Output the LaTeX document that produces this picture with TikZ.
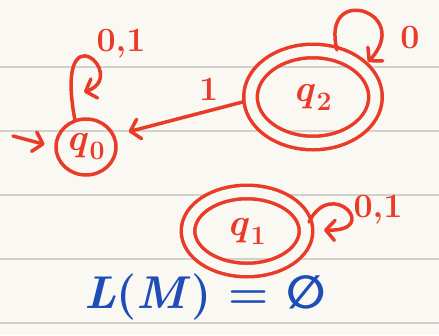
\documentclass[tikz,border=0pt]{standalone}
\usepackage{fontspec}
\newfontfamily\dejavu{DejaVu Sans}
\usetikzlibrary{arrows.meta,shapes.geometric}

\definecolor{paper}{HTML}{FAF8F3}
\definecolor{rule}{HTML}{D3D1CC}
\definecolor{ink}{HTML}{EA3A28}
\definecolor{blueink}{HTML}{1E4DB7}

\newcommand{\stname}[1]{\textit{q}\kern1pt\textsubscript{#1}}

\begin{document}
\begin{tikzpicture}[x=1pt,y=-1pt,
  pen/.style={draw=ink, line width=3.5pt, line cap=round, line join=round},
  state/.style={pen, ellipse, inner sep=0pt, text=ink, font=\fontsize{38}{40}\bfseries},
  accepting/.style={double=paper, double distance=10pt},
  tip/.style={-{Straight Barb[length=9pt,width=20pt,line cap=round,line join=round]}},
  lbl/.style={text=ink, font=\fontsize{34}{36}\bfseries}]

% lined notebook paper
\fill[paper] (0,0) rectangle (439,335);
\useasboundingbox (0,0) rectangle (439,335);
\foreach \y in {67,131,195,259,323}
  \draw[rule, line width=1.2pt] (0,\y) -- (439,\y);

% states
\node[state, minimum width=60, minimum height=56] (q0) at (86,147) {\stname{0}};
\node[state, accepting, minimum width=125, minimum height=92] (q2) at (313,97) {\stname{2}};
\node[state, accepting, minimum width=118, minimum height=78] (q1) at (247,231) {\stname{1}};

% initial arrow
\coordinate (init) at (13,136);
\draw[pen, tip, shorten >=10pt] (init) -- (q0.west);

% transition q2 -> q0
\draw[pen, tip, shorten <=6pt, shorten >=14pt] (q2.183) -- (q0.22)
  node[lbl, pos=0.3, above=5pt] {1};

% self-loops
\coordinate (q0in) at (84,92);
\draw[pen, tip] (q0.112) .. controls (54,6) and (130,76) .. (q0in);
\node[lbl] (q0lbl) at (121,44) {0,1};

\coordinate (q2out) at (337,50);
\coordinate (q2in) at (368,62);
\draw[pen, tip] (q2out) .. controls (320,-18) and (414,12) .. (q2in);
\node[lbl] (q2lbl) at (410,38) {0};

\coordinate (q1out) at (309,222);
\coordinate (q1in) at (324,230);
\draw[pen, tip] (q1out) .. controls (332,176) and (382,232) .. (q1in);
\node[lbl] (q1lbl) at (378,210) {0,1};

% language of the machine
\node[text=blueink, font=\fontsize{46}{48}\bfseries] (lang) at (205,297)
  {\textit{L}(\textit{M}) = {\dejavu\bfseries ∅}};
\end{tikzpicture}
\end{document}
